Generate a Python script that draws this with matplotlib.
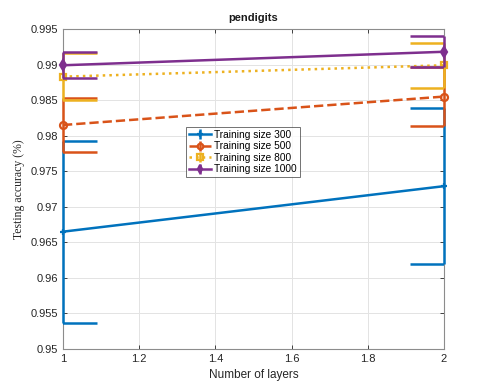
import numpy as np
from matplotlib import pyplot as plt

layers = [1, 2]
labels = ["Training size 300", "Training size 500", "Training size 800", "Training size 1000"]
acc_300 = [0.9665, 0.9729]
err_300 = [0.0128, 0.0110]
acc_500 = [0.9815, 0.9855]
err_500 = [0.0038, 0.0041]
acc_800 = [0.9883, 0.9899]
err_800 = [0.0033, 0.0032]
acc_1000 = [0.9899, 0.9918]
err_1000 = [0.0018, 0.0022]

colors = ["#0072BD", "#D95319", "#EDB120", "#7E2F8E"]
styles = ["-", "--", ":", "-"]
markers = ["+", "o", "s", "d"]
cap_half = 0.09

plt.rcParams["font.family"] = ["Liberation Sans", "DejaVu Sans"]
fig = plt.figure(figsize=(4.91, 3.92), dpi=100)
ax = fig.add_axes([0.1283, 0.1097, 0.776, 0.8163])

series = [(acc_300, err_300), (acc_500, err_500), (acc_800, err_800), (acc_1000, err_1000)]
for i, (acc, err) in enumerate(series):
    acc = np.array(acc)
    err = np.array(err)
    filled = markers[i] == "d"
    ax.errorbar(layers, acc, yerr=err, color=colors[i], linestyle=styles[i], linewidth=1.8,
                marker=markers[i], markersize=5, markeredgewidth=1.6,
                markerfacecolor=colors[i] if filled else "none",
                elinewidth=1.8, capsize=0, label=labels[i], zorder=3 + i, clip_on=False)
    # caps are clipped by the axes, so they only show on the inner side
    for x, lo, hi in zip(layers, acc - err, acc + err):
        ax.hlines([lo, hi], x - cap_half, x + cap_half, color=colors[i], linewidth=1.8, zorder=3 + i)

ax.set_xlim(1, 2)
ax.set_ylim(0.95, 0.995)
ax.set_xticks([1, 1.2, 1.4, 1.6, 1.8, 2])
ax.set_xticklabels(["1", "1.2", "1.4", "1.6", "1.8", "2"])
yt = [0.95, 0.955, 0.96, 0.965, 0.97, 0.975, 0.98, 0.985, 0.99, 0.995]
ax.set_yticks(yt)
ax.set_yticklabels([f"{v:g}" for v in yt])
ax.tick_params(direction="in", labelsize=8, colors="#262626", length=3, width=0.6, top=True, right=True)
for s in ax.spines.values():
    s.set_color("#8c8c8c")
    s.set_linewidth(0.8)
ax.grid(True, color="#e3e3e3", linewidth=0.7, zorder=0)
ax.set_axisbelow(True)

ax.set_title("pendigits", fontsize=8, fontweight="bold", color="#1a1a1a")
ax.set_xlabel("Number of layers", fontsize=8.5, color="#262626")
ax.set_ylabel("Testing accuracy (%)", fontsize=8.5, color="#262626",
              family=["Liberation Serif", "DejaVu Serif"])

leg = ax.legend(loc="center", bbox_to_anchor=(0.472, 0.616), fontsize=7.3, frameon=True,
                fancybox=False, edgecolor="#333333", handlelength=2.2, borderpad=0.3,
                labelspacing=0.15, handletextpad=0.35, borderaxespad=0, markerscale=0.8)
leg.get_frame().set_linewidth(0.6)

fig.savefig("out.png", dpi=100)
